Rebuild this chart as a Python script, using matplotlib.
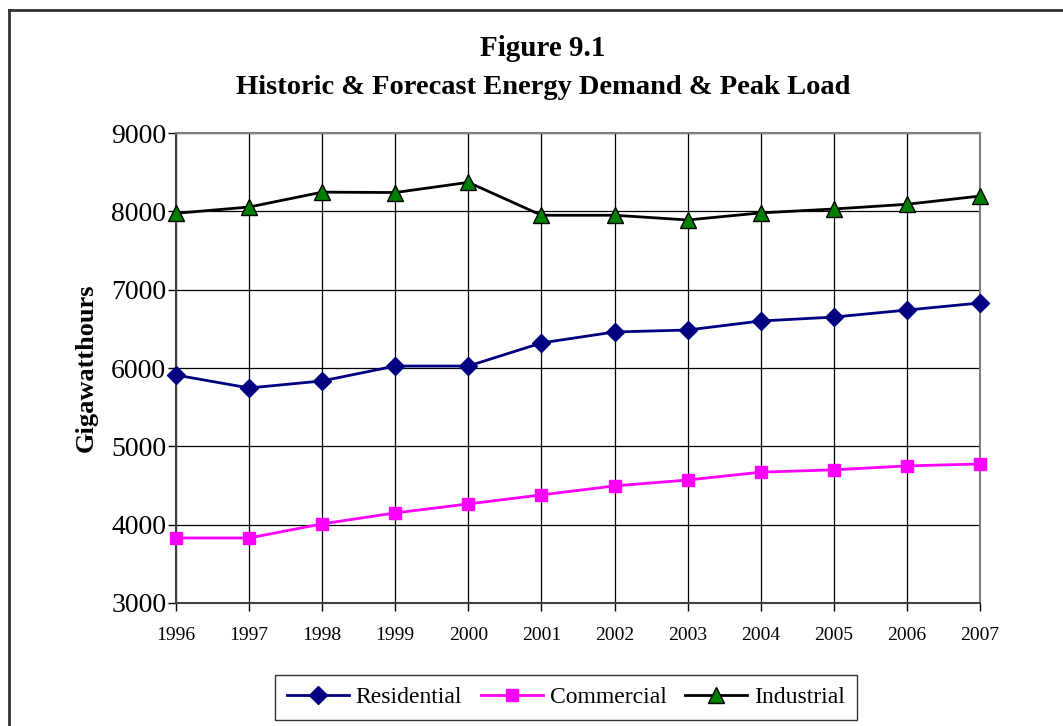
import numpy as np
import matplotlib
matplotlib.use("Agg")
import matplotlib.pyplot as plt
from matplotlib.lines import Line2D

plt.rcParams["font.family"] = ["Liberation Serif", "DejaVu Serif"]

years = [1996, 1997, 1998, 1999, 2000, 2001, 2002, 2003, 2004, 2005, 2006, 2007]
residential = [5910, 5745, 5835, 6025, 6025, 6320, 6460, 6485, 6600, 6650, 6740, 6830]
commercial = [3830, 3830, 4010, 4150, 4265, 4380, 4495, 4570, 4670, 4700, 4750, 4775]
industrial = [7975, 8055, 8245, 8240, 8370, 7950, 7950, 7890, 7980, 8030, 8090, 8195]
yticks = [3000, 4000, 5000, 6000, 7000, 8000, 9000]

fig = plt.figure(figsize=(10.63, 7.26), dpi=100)
ax = fig.add_axes([176 / 1063, 123 / 726, 804 / 1063, 470 / 726])

ax.plot(years, residential, "-D", color="#000080", lw=2, ms=9,
        mec="#000080", mfc="#000080", label="Residential", zorder=3, clip_on=False)
ax.plot(years, commercial, "-s", color="#ff00ff", lw=2, ms=9,
        mec="#ff00ff", mfc="#ff00ff", label="Commercial", zorder=3, clip_on=False)
ax.plot(years, industrial, "-^", color="black", lw=2, ms=11,
        mec="black", mfc="#008000", label="Industrial", zorder=3, clip_on=False)

ax.set_xlim(years[0], years[-1])
ax.set_ylim(3000, 9000)
ax.set_xticks(years)
ax.set_xticklabels([str(y) for y in years], fontsize=14)
ax.set_yticks(yticks)
ax.set_yticklabels([str(v) for v in yticks], fontsize=20)
ax.grid(True, color="black", lw=0.9)
ax.tick_params(axis="both", direction="out", length=6, width=1)
ax.tick_params(axis="x", pad=11)
ax.tick_params(axis="y", pad=1)
for s in ["top", "right"]:
    ax.spines[s].set_color("#808080")
    ax.spines[s].set_linewidth(1.5)
for s in ["left", "bottom"]:
    ax.spines[s].set_color("#404040")
    ax.spines[s].set_linewidth(1.5)

ax.set_ylabel("Gigawatthours", fontsize=19, fontweight="bold", labelpad=10)

fig.text(543 / 1063, 1 - 48 / 726, "Figure 9.1", ha="center", va="center",
         fontsize=21, fontweight="bold")
fig.text(543 / 1063, 1 - 88 / 726, "Historic & Forecast Energy Demand & Peak Load",
         ha="center", va="center", fontsize=20.5, fontweight="bold")

leg = ax.legend(loc="upper center", ncol=3, fontsize=17,
                frameon=True, fancybox=False, edgecolor="black",
                handlelength=2.6, handletextpad=0.3, columnspacing=0.8,
                borderpad=0.5, borderaxespad=0)
leg.get_frame().set_linewidth(1.0)
leg.set_bbox_to_anchor((566 / 1063, 1 - 675 / 726), transform=fig.transFigure)

# outer chart border (left and top edges visible)
fig.add_artist(Line2D([9 / 1063, 9 / 1063], [0, 1 - 10 / 726],
                      transform=fig.transFigure, color="#333333", lw=2))
fig.add_artist(Line2D([9 / 1063, 1], [1 - 10 / 726, 1 - 10 / 726],
                      transform=fig.transFigure, color="#333333", lw=2))

fig.savefig("out.png", dpi=100)
